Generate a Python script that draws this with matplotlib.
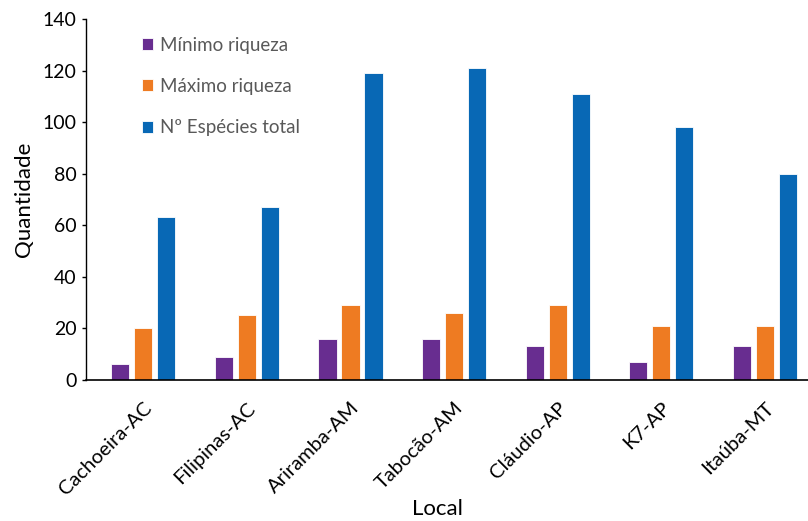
import numpy as np
import matplotlib
matplotlib.use("Agg")
import matplotlib.pyplot as plt

plt.rcParams['font.family'] = ['Lato', 'DejaVu Sans']

# dados por local
locais = ['Cachoeira-AC', 'Filipinas-AC', 'Ariramba-AM', 'Tabocão-AM',
          'Cláudio-AP', 'K7-AP', 'Itaúba-MT']
minimo = [6, 9, 16, 16, 13, 7, 13]
maximo = [20, 25, 29, 26, 29, 21, 21]
total = [63, 67, 119, 121, 111, 98, 80]

series = [
    ('Mínimo riqueza', minimo, '#682D90'),
    ('Máximo riqueza', maximo, '#EE7B22'),
    ('Nº Espécies total', total, '#0868B5'),
]

fig = plt.figure(figsize=(8.08, 5.21), dpi=100)
ax = fig.add_axes([0.106, 0.271, 0.894, 0.6925])

x = np.arange(len(locais))
w = 0.175
step = 0.222
for i, (nome, vals, cor) in enumerate(series):
    ax.bar(x + (i - 1) * step, vals, w, color=cor, label=nome,
           edgecolor='white', linewidth=0.6)

ax.set_xlim(-0.555, 6.415)
ax.set_ylim(0, 140)
ax.set_yticks(range(0, 141, 20))
ax.set_xticks(x)
ax.set_xticklabels(locais, rotation=45, ha='right', rotation_mode='anchor',
                   fontsize=14.5)
ax.tick_params(axis='y', labelsize=14, length=3, width=1)
ax.tick_params(axis='x', length=0, pad=14)

for s in ['top', 'right']:
    ax.spines[s].set_visible(False)
ax.spines['left'].set_linewidth(1)
ax.spines['bottom'].set_linewidth(1.2)

ax.set_ylabel('Quantidade', fontsize=16, labelpad=6)
ax.set_xlabel('Local', fontsize=16)
ax.xaxis.set_label_coords(0.487, -0.33)

leg = ax.legend(loc='upper left', bbox_to_anchor=(0.054, 0.998), frameon=False,
                fontsize=13.5, labelspacing=1.3, handlelength=0.6,
                handleheight=0.6, handletextpad=0.4)
for t in leg.get_texts():
    t.set_color('#595959')

fig.savefig('out.png', dpi=100)
